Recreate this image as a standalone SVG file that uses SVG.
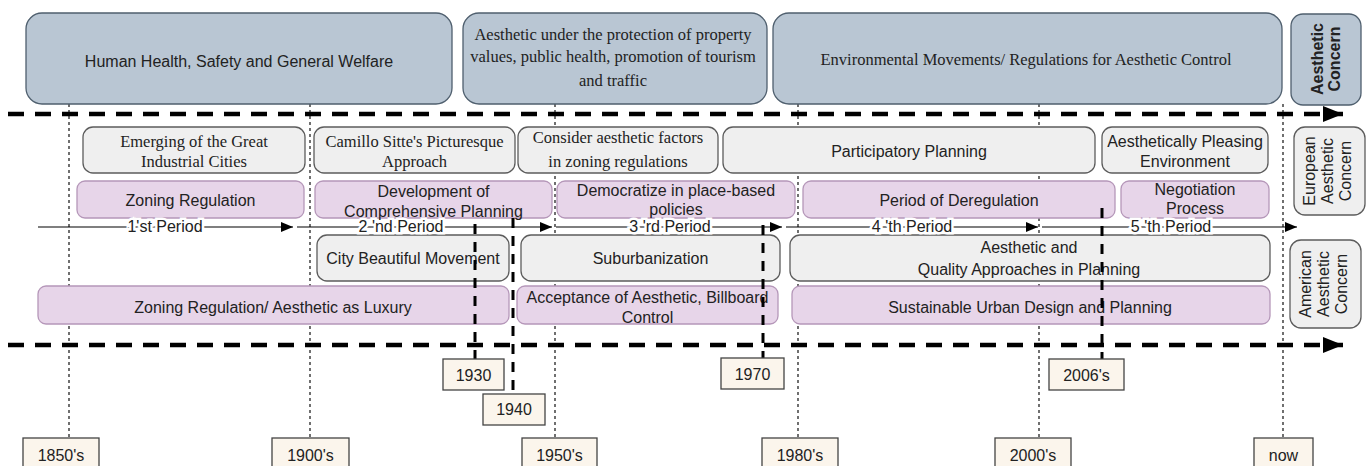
<svg xmlns="http://www.w3.org/2000/svg" width="1368" height="466" viewBox="0 0 1368 466">
<style>
.sans{font-family:"Liberation Sans",Arial,sans-serif;font-size:16px;fill:#222;text-anchor:middle}
.serif{font-family:"Liberation Serif","Times New Roman",serif;font-size:16.5px;fill:#222;text-anchor:middle}
.bold{font-weight:bold}
.top{fill:#b9c6d3;stroke:#4f5f6e;stroke-width:1.3}
.grey{fill:#efefef;stroke:#5c5c5c;stroke-width:1.3}
.purple{fill:#e7d5e9;stroke:#b597b9;stroke-width:1.3}
.year{fill:#fbf5ec;stroke:#444;stroke-width:1.3}
.dot{stroke:#111;stroke-width:1.2;stroke-dasharray:3 3;fill:none}
.thick{stroke:#000;stroke-width:4.5;stroke-dasharray:16 11;fill:none}
.vthick{stroke:#000;stroke-width:3;stroke-dasharray:10 8;fill:none}
.period{stroke:#000;stroke-width:1.2;fill:none}
.plabel{font-family:"Liberation Sans",Arial,sans-serif;font-size:16px;fill:#222;text-anchor:middle;stroke:#fff;stroke-width:5;paint-order:stroke}
</style>
<defs>
<marker id="big" markerUnits="userSpaceOnUse" markerWidth="20" markerHeight="16" refX="20" refY="8" orient="auto"><path d="M0,0 L20,8 L0,16 z" fill="#000"/></marker>
<marker id="small" markerUnits="userSpaceOnUse" markerWidth="12" markerHeight="10" refX="12" refY="5" orient="auto"><path d="M0,0 L12,5 L0,10 z" fill="#000"/></marker>
</defs>
<rect width="1368" height="466" fill="#fff"/>

<g id="guides">
<path class="dot" d="M69,104 V438 M310,104 V438 M555,104 V438 M798,104 V438 M1039,104 V438 M1283,104 V438"/>
</g>

<g id="concern-health"><rect class="top" x="26" y="13" width="426" height="91" rx="16"/><text class="sans" x="239" y="67">Human Health, Safety and General Welfare</text></g>
<g id="concern-property"><rect class="top" x="463" y="13" width="304" height="91" rx="16"/><text class="serif" x="613" y="40">Aesthetic under the protection of property</text><text class="serif" x="613" y="62">values, public health, promotion of tourism</text><text class="serif" x="613" y="86">and traffic</text></g>
<g id="concern-environment"><rect class="top" x="773" y="13" width="509" height="91" rx="16"/><text class="serif" x="1026" y="65">Environmental Movements/ Regulations for Aesthetic Control</text></g>
<g id="label-aesthetic"><rect class="top" x="1291" y="14" width="70" height="91" rx="12"/><g transform="translate(1326,59) rotate(-90)"><text class="sans bold" x="0" y="-3">Aesthetic</text><text class="sans bold" x="0" y="14">Concern</text></g></g>

<g id="eu-industrial"><rect class="grey" x="83" y="127" width="222" height="46" rx="10"/><text class="serif" x="194" y="147">Emerging of the Great</text><text class="serif" x="194" y="167">Industrial Cities</text></g>
<g id="eu-sitte"><rect class="grey" x="314" y="127" width="201" height="46" rx="10"/><text class="serif" x="414.5" y="147">Camillo Sitte's Picturesque</text><text class="serif" x="414.5" y="167">Approach</text></g>
<g id="eu-consider"><rect class="grey" x="518" y="127" width="200" height="46" rx="10"/><text class="serif" x="618" y="143">Consider aesthetic factors</text><text class="serif" x="618" y="167">in zoning regulations</text></g>
<g id="eu-participatory"><rect class="grey" x="723" y="127" width="372" height="46" rx="10"/><text class="sans" x="909" y="157">Participatory Planning</text></g>
<g id="eu-pleasing"><rect class="grey" x="1102" y="127" width="166" height="46" rx="10"/><text class="sans" x="1185" y="147">Aesthetically Pleasing</text><text class="sans" x="1185" y="167">Environment</text></g>
<g id="label-european"><rect class="grey" x="1294" y="127" width="71" height="88" rx="11"/><g transform="translate(1329.5,171) rotate(-90)"><text class="sans" x="0" y="-15">European</text><text class="sans" x="0" y="3">Aesthetic</text><text class="sans" x="0" y="21">Concern</text></g></g>

<g id="eu-zoning"><rect class="purple" x="77" y="181" width="227" height="37" rx="8"/><text class="sans" x="190.5" y="206">Zoning Regulation</text></g>
<g id="eu-comprehensive"><rect class="purple" x="315" y="181" width="237" height="37" rx="8"/><text class="sans" x="433.5" y="197">Development of</text><text class="sans" x="433.5" y="217">Comprehensive Planning</text></g>
<g id="eu-democratize"><rect class="purple" x="557" y="181" width="238" height="37" rx="8"/><text class="sans" x="676" y="196">Democratize in place-based</text><text class="sans" x="676" y="215">policies</text></g>
<g id="eu-deregulation"><rect class="purple" x="803" y="181" width="312" height="37" rx="8"/><text class="sans" x="959" y="206">Period of Deregulation</text></g>
<g id="eu-negotiation"><rect class="purple" x="1121" y="181" width="148" height="37" rx="8"/><text class="sans" x="1195" y="195">Negotiation</text><text class="sans" x="1195" y="214">Process</text></g>

<g id="us-beautiful"><rect class="grey" x="317" y="235" width="192" height="46" rx="10"/><text class="sans" x="413" y="264">City Beautiful Movement</text></g>
<g id="us-suburbanization"><rect class="grey" x="521" y="235" width="259" height="46" rx="10"/><text class="sans" x="650.5" y="264">Suburbanization</text></g>
<g id="us-quality"><rect class="grey" x="790" y="235" width="480" height="46" rx="10"/><text class="sans" x="1029" y="253">Aesthetic and</text><text class="sans" x="1029" y="275">Quality Approaches in Planning</text></g>
<g id="label-american"><rect class="grey" x="1290" y="240" width="71" height="88" rx="11"/><g transform="translate(1325.5,284) rotate(-90)"><text class="sans" x="0" y="-15">American</text><text class="sans" x="0" y="3">Aesthetic</text><text class="sans" x="0" y="21">Concern</text></g></g>

<g id="us-luxury"><rect class="purple" x="38" y="286" width="471" height="38" rx="8"/><text class="sans" x="273" y="313">Zoning Regulation/ Aesthetic as Luxury</text></g>
<g id="us-billboard"><rect class="purple" x="517" y="286" width="261" height="38" rx="8"/><text class="sans" x="647.5" y="303">Acceptance of Aesthetic, Billboard</text><text class="sans" x="647.5" y="323">Control</text></g>
<g id="us-sustainable"><rect class="purple" x="792" y="286" width="478" height="38" rx="8"/><text class="sans" x="1030" y="313">Sustainable Urban Design and Planning</text></g>

<g id="connectors">
<path class="thick" d="M8,114 H1343" marker-end="url(#big)"/>
<path class="thick" d="M8,345 H1343" marker-end="url(#big)"/>
<path class="period" d="M38,227 H293" marker-end="url(#small)"/>
<path class="period" d="M297,227 H552" marker-end="url(#small)"/>
<path class="period" d="M556,227 H782" marker-end="url(#small)"/>
<path class="period" d="M786,227 H1038" marker-end="url(#small)"/>
<path class="period" d="M1042,227 H1297" marker-end="url(#small)"/>
<path class="vthick" d="M475,224 V359"/>
<path class="vthick" d="M513,218 V394"/>
<path class="vthick" d="M763,225 V358"/>
<path class="vthick" d="M1102,208 V359"/>
</g>

<g id="period-labels">
<text class="plabel" x="165" y="232">1'st Period</text>
<text class="plabel" x="401" y="232">2 'nd Period</text>
<text class="plabel" x="670" y="232">3 'rd Period</text>
<text class="plabel" x="912" y="232">4 'th Period</text>
<text class="plabel" x="1171" y="232">5 'th Period</text>
</g>

<g id="y1850"><rect class="year" x="23" y="438" width="76" height="34"/><text class="sans" x="61" y="461">1850's</text></g>
<g id="y1900"><rect class="year" x="272" y="438" width="77" height="34"/><text class="sans" x="310.5" y="461">1900's</text></g>
<g id="y1930"><rect class="year" x="443" y="359" width="61" height="31"/><text class="sans" x="473.5" y="381">1930</text></g>
<g id="y1940"><rect class="year" x="483" y="394" width="62" height="31"/><text class="sans" x="514" y="415">1940</text></g>
<g id="y1950"><rect class="year" x="522" y="438" width="75" height="34"/><text class="sans" x="559.5" y="461">1950's</text></g>
<g id="y1970"><rect class="year" x="721" y="358" width="63" height="31"/><text class="sans" x="752.5" y="380">1970</text></g>
<g id="y1980"><rect class="year" x="762" y="438" width="76" height="34"/><text class="sans" x="800" y="461">1980's</text></g>
<g id="y2000"><rect class="year" x="995" y="438" width="76" height="34"/><text class="sans" x="1033" y="461">2000's</text></g>
<g id="y2006"><rect class="year" x="1049" y="359" width="75" height="31"/><text class="sans" x="1086.5" y="381">2006's</text></g>
<g id="ynow"><rect class="year" x="1254" y="438" width="59" height="34"/><text class="sans" x="1283.5" y="461">now</text></g>
</svg>
